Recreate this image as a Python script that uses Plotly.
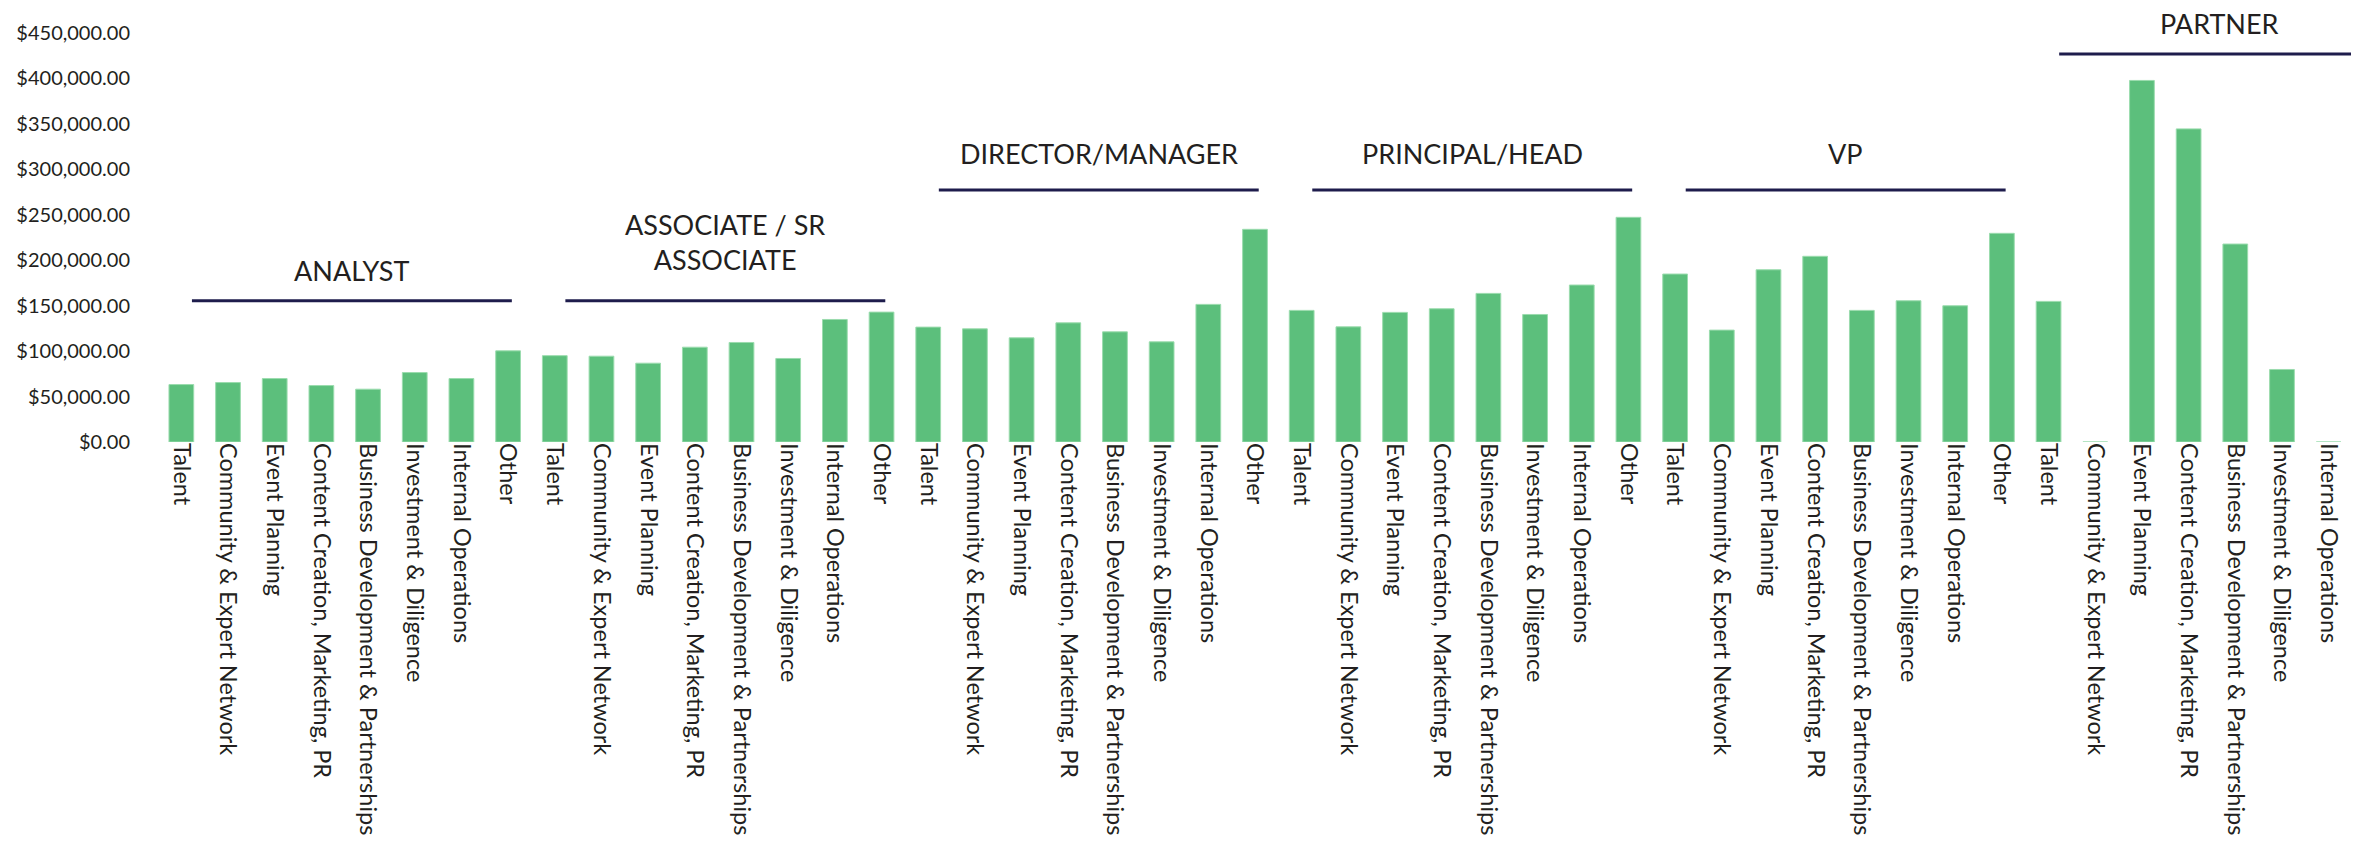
import plotly.graph_objects as go

functions = ["Talent", "Community & Expert Network", "Event Planning",
             "Content Creation, Marketing, PR", "Business Development & Partnerships",
             "Investment & Diligence", "Internal Operations", "Other"]
partner_functions = functions[:7]

levels = ["ANALYST", "ASSOCIATE / SR<br>ASSOCIATE", "DIRECTOR/MANAGER",
          "PRINCIPAL/HEAD", "VP", "PARTNER"]

analyst = [63200, 65400, 69800, 62100, 58100, 76400, 69800, 100300]
associate = [95000, 94400, 86700, 104300, 109500, 91900, 134800, 142900]
director = [126400, 124500, 114600, 131100, 121200, 110200, 151400, 234000]
principal = [144800, 126700, 142600, 146600, 163500, 140300, 172700, 247200]
vp = [184800, 123100, 189500, 204300, 144800, 155400, 149900, 229600]
partner = [154700, 0, 397800, 344500, 217800, 79800, 0]

groups = [analyst, associate, director, principal, vp, partner]
group_labels = [functions] * 5 + [partner_functions]

values = []
tick_text = []
group_start = []
for vals, labs in zip(groups, group_labels):
    group_start.append(len(values))
    values.extend(vals)
    tick_text.extend(labs)
xs = list(range(len(values)))

Y_MAX = 450000
# bracket line y (data units) and label y for each group
line_y = [155400, 155400, 277300, 277300, 277300, 426800]
label_y = [188400, 219500, 317800, 317800, 317800, 460200]

FONT = "Lato"
fig = go.Figure(go.Bar(
    x=xs, y=values,
    marker=dict(color="#5cbf7c", line=dict(color="#9bdcae", width=1)),
))

shapes = []
annotations = []
for gi, lab in enumerate(levels):
    s = group_start[gi]
    x0 = s + 0.227
    x1 = s + 7.08
    shapes.append(dict(type="line", xref="x", yref="y", x0=x0, x1=x1,
                       y0=line_y[gi], y1=line_y[gi],
                       line=dict(color="#1e1c4c", width=3)))
    annotations.append(dict(x=(x0 + x1) / 2, y=label_y[gi] / Y_MAX,
                            xref="x", yref="paper", borderpad=0,
                            text=lab, showarrow=False, yanchor="middle",
                            font=dict(family=FONT, size=27, color="#231f20")))

fig.update_layout(
    width=2359, height=842,
    margin=dict(l=150, r=15, t=25, b=408),
    paper_bgcolor="white", plot_bgcolor="white",
    bargap=0.47,
    showlegend=False,
    shapes=shapes, annotations=annotations,
    font=dict(family=FONT, color="#231f20"),
    xaxis=dict(tickmode="array", tickvals=xs, ticktext=tick_text,
               tickangle=90, range=[-0.5, len(values) - 0.5],
               showgrid=False, zeroline=False, showline=False,
               automargin=False,
               tickfont=dict(family=FONT, size=23.5, color="#231f20")),
    yaxis=dict(range=[0, Y_MAX], dtick=50000, tickformat="$,.2f",
               showgrid=False, zeroline=False, showline=False,
               automargin=False, ticklabelstandoff=27,
               tickfont=dict(family=FONT, size=20, color="#231f20")),
)

fig.write_html("out.html")
